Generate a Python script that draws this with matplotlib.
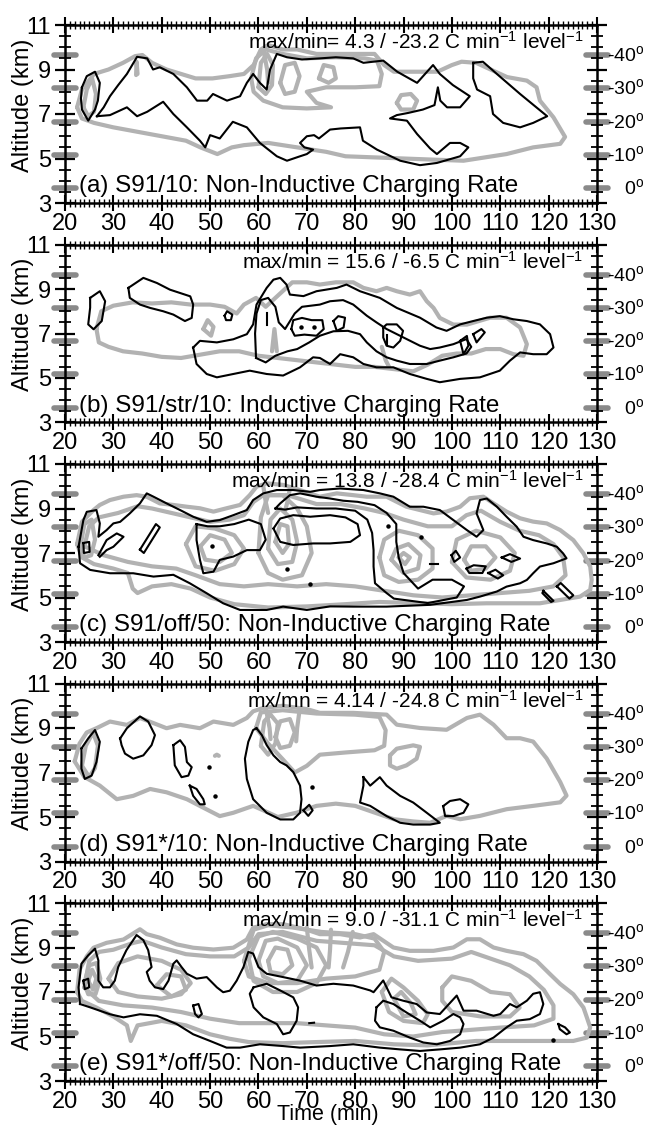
import matplotlib.pyplot as plt
from matplotlib.ticker import MultipleLocator, FixedLocator

plt.rcParams['font.family'] = ['Liberation Sans', 'DejaVu Sans']
plt.rcParams['mathtext.fontset'] = 'custom'
plt.rcParams['mathtext.rm'] = 'Liberation Sans'
plt.rcParams['mathtext.it'] = 'Liberation Sans:italic'

# temperature levels marked on both sides (altitude km, label)
TEMP_Z = [9.64, 8.15, 6.66, 5.16, 3.67]
TEMP_LABELS = ['-40$^\\mathrm{o}$', '-30$^\\mathrm{o}$', '-20$^\\mathrm{o}$',
               '-10$^\\mathrm{o}$', '0$^\\mathrm{o}$']

TITLES = [
    'max/min= 4.3 / -23.2 C min$^{-1}$ level$^{-1}$',
    'max/min = 15.6 / -6.5 C min$^{-1}$ level$^{-1}$',
    'max/min = 13.8 / -28.4 C min$^{-1}$ level$^{-1}$',
    'mx/mn = 4.14 / -24.8 C min$^{-1}$ level$^{-1}$',
    'max/min = 9.0 / -31.1 C min$^{-1}$ level$^{-1}$',
]
LABELS = [
    '(a) S91/10: Non-Inductive Charging Rate',
    '(b) S91/str/10: Inductive Charging Rate',
    '(c) S91/off/50: Non-Inductive Charging Rate',
    '(d) S91*/10: Non-Inductive Charging Rate',
    '(e) S91*/off/50: Non-Inductive Charging Rate',
]

# ---- contour paths, (time min, altitude km); gray = positive, black = negative
A_GRAY = [
    [(22.5,7.3),(23.5,8.1),(26,8.8),(29,9.0),(32,9.3),(34.5,9.6),(36,9.65),(38,9.3),(41,9.0),(44,8.8),
     (47,8.6),(50.5,8.6),(54,8.7),(57,8.8),(59,9.2),(60.5,9.9),(62,10.1),(65,9.9),(68,9.9),(72,9.7),
     (78,9.7),(84,9.7),(86,9.2),(88,8.9),(92,8.9),(97,8.9),(100,9.2),(102,9.35),(105,9.3),(108,9.0),
     (111.4,8.66),(115.5,8.5),(117.5,8.2),(118.2,7.6),(121,6.85),(123.4,5.97),(122.4,5.66),(116.8,5.5),
     (111.3,5.2),(102.4,4.9),(96,4.95),(90,5.0),(84,5.05),(78,5.1),(74,5.3),(68,5.5),(62,5.7),(57,5.6),
     (54.5,5.5),(51.5,5.2),(48,5.5),(45,5.8),(40,6.0),(35,6.2),(30,6.4),(26,6.6),(23.5,6.8),(22.5,7.3)],
    [(58.5,8.6),(59.5,9.5),(61.5,9.9),(65,9.7),(70,9.5),(76,9.55),(82,9.5),(84.5,9.4),(85.5,8.8),
     (85,8.25),(80,8.2),(74,8.2),(70,8.0),(72,7.5),(75,7.3),(70,7.25),(65,7.3),(61,7.6),(59,8.0),(58.5,8.6)],
    [(60,8.2),(60.5,9.3),(61.8,9.7),(63,9.2),(62.8,8.3),(61.5,7.9),(60,8.2)],
    [(64.5,8.4),(65.5,9.2),(67.5,9.3),(68.5,8.7),(67.5,8.0),(65.5,7.9),(64.5,8.4)],
    [(88.6,7.5),(89.5,7.85),(91.5,7.9),(92.8,7.6),(92,7.2),(89.5,7.2),(88.6,7.5)],
    [(23.8,7.3),(24.5,8.1),(25.6,8.6),(26.4,7.9),(26,7.1),(24.8,6.9),(23.8,7.3)],
    [(34.7,8.75),(34.8,9.35),(35.0,8.8)],
    [(72.5,8.6),(73.5,9.2),(75.5,9.1),(76,8.6),(74.5,8.4),(72.5,8.6)],
    [(61.0,9.9),(61.8,9.0),(62.0,8.4)],
]
A_BLACK = [
    [(23.5,8.2),(24.5,8.7),(26.2,8.9),(27.2,8.4),(26.8,7.6),(26.2,7.2),(24.8,6.7),(23.5,7.2),(23.3,7.7),(23.5,8.2)],
    [(26.6,6.9),(28,7.3),(29.3,7.8),(31,8.3),(32.8,8.8),(34.9,9.57),(37,9.5),(38.2,9.0),(39.6,9.1),(42.4,8.8),
     (45.2,8.2),(47.3,7.6),(49.4,7.6),(50.6,7.9),(53.5,7.6),(56.2,7.8),(57.6,8.4),(58.9,8.8),(60.3,8.4),
     (61.7,8.1),(62.4,9.0),(63.8,9.7),(65.9,9.55),(69,9.45),(72.7,9.5),(76,9.55),(79.6,9.5),(81.7,9.3),
     (85.8,9.4),(88.7,8.9),(92.8,8.4),(96.1,9.2),(97.5,8.8),(100.2,8.3),(103.7,7.8),(101.7,7.3),(99,7.3),
     (97.6,7.6),(97.1,8.2),(96.4,7.4),(94,7.2),(91,7.05),(88.6,6.95),(87.2,6.8),(90.7,6.7),(92.8,6.1),
     (95.5,5.45),(96.9,5.2),(99.6,5.7),(101.7,5.7),(103.4,5.5),(101.7,5.1),(96.9,4.8),(93.4,4.7),(89.3,4.9),
     (84.5,5.4),(81.6,5.8),(81,6.4),(77,6.35),(74.8,6.3),(72.5,5.9),(71.5,6.05),(70,6.0),(68.6,5.7),
     (69.5,5.5),(71.3,5.4),(70,5.2),(68.6,5.1),(65.9,4.9),(63.8,5.1),(60.3,5.7),(57.6,6.4),(54.7,6.65),
     (52,5.9),(50,6.05),(49,5.5),(47.9,5.8),(45.2,6.4),(42.4,7.0),(40.3,7.55),(37,7.1),(34.9,6.9),
     (32.8,7.3),(29.3,6.95),(26.6,6.9)],
    [(104.4,9.3),(106.4,9.35),(109.3,8.8),(114.1,7.9),(119.7,6.9),(116.8,6.6),(114.1,6.4),(110.6,6.6),
     (108.5,7.0),(107.9,7.8),(105.2,8.1),(104.4,8.6),(104.4,9.3)],
]

B_GRAY = [
    [(26.5,7.2),(27.5,8.0),(30,8.25),(34,8.4),(38,8.35),(42,8.4),(46,8.3),(50,8.3),(53,8.2),(55.5,7.9),
     (57,8.3),(59.5,8.6),(61.5,8.2),(63,8.5),(65,8.9),(67,9.3),(70,9.3),(72.7,9.2),(76,9.3),(79.6,9.3),
     (81.7,9.05),(84.4,8.9),(86.5,9.05),(88.6,8.9),(91.3,8.75),(93.4,8.9),(94.8,8.45),(96.2,8.15),
     (97.5,7.7),(100.3,7.4),(103.1,7.4),(107.9,7.71),(111.3,7.71),(114.1,7.27),(115.5,6.52),(114.8,6.0),
     (112.7,6.07),(110,6.3),(107,6.3),(104,6.1),(101,6.1),(98,6.0),(95,5.6),(92,5.3),(88,5.4),(84,5.5),
     (80,5.5),(76,5.6),(72,5.7),(68,5.8),(64,5.9),(60,6.0),(56,6.2),(52,6.2),(48,6.05),(44,5.9),
     (40,5.95),(36,6.1),(32,6.2),(29,6.4),(27,6.6),(26.5,7.2)],
    [(48.6,7.2),(49.5,7.6),(50.7,7.3),(50.2,6.9),(48.6,7.2)],
    [(62.8,6.2),(63.3,7.2),(63.8,6.2)],
    [(85.5,6.4),(86.3,5.8),(87,5.5)],
]
B_BLACK = [
    [(25.2,8.6),(27.2,8.9),(28.3,8.45),(27.6,7.56),(25.9,7.19),(24.8,7.41),(25.2,8.16),(25.2,8.6)],
    [(33.1,9.05),(36.2,9.5),(39.0,9.27),(41.7,8.97),(45.9,8.67),(46.5,8.3),(46.2,7.7),(44.8,7.56),
     (42.4,7.85),(40.3,8.0),(37.6,8.15),(35.5,8.3),(33.4,8.6),(33.1,9.05)],
    [(53.0,7.8),(53.5,8.0),(54.6,7.85),(54.3,7.6),(53.3,7.6),(53.0,7.8)],
    [(46.5,6.37),(47.9,6.67),(51.4,6.6),(54.8,6.74),(57.6,6.97),(58.9,7.41),(59.6,8.3),(61.7,9.05),
     (63.1,9.42),(64.5,9.5),(65.8,9.2),(66.5,8.75),(69.3,8.68),(72.0,8.9),(74.8,9.0),(76.2,9.05),
     (78.2,9.2),(81.0,8.9),(85.1,8.6),(88.6,8.15),(93.4,7.71),(96.8,7.27),(98.9,7.12),(101.7,7.41),
     (104.4,7.56),(107.2,7.71),(109.9,7.78),(112.7,7.64),(115.5,7.56),(118.2,7.41),(120.3,6.97),
     (121.0,6.37),(119.6,6.07),(116.8,6.07),(114.1,6.15),(112.0,5.78),(109.9,5.33),(105.8,5.03),
     (101.7,4.96),(97.5,4.81),(94.8,4.96),(91.3,5.18),(87.9,5.48),(84.4,5.48),(81.7,5.63),(79.6,5.93),
     (76.9,6.07),(74.8,5.63),(72.7,5.9),(71.3,5.93),(68.6,5.48),(65.1,5.11),(61.7,5.18),(58.2,5.33),
     (54.8,5.18),(51.4,5.03),(49.3,5.18),(47.2,5.63),(46.5,6.37)],
    [(59.5,5.9),(59.3,7.0),(59.6,7.9),(60.5,8.5),(62,8.6),(63.5,8.2),(64.2,7.5),(65.5,7.2),(67.5,7.9),
     (69,8.2),(72.7,8.3),(74.8,8.45),(77.5,8.5),(79.6,8.3),(82.4,7.8),(84.4,7.5),(86.5,7.2),(89.9,6.83),
     (93.4,6.45),(95.5,6.3),(97.5,6.37),(100.3,6.52),(103.0,6.75),(104,6.4),(103,6.1),(100.3,5.93),
     (97.5,5.78),(94.8,5.63),(91.3,5.63),(88.6,5.78),(86.5,5.93),(84.4,6.2),(82.4,6.6),(81.0,6.97),
     (78.5,7.12),(75.5,7.1),(72.7,6.9),(70.5,6.6),(68,6.3),(66,6.2),(63.5,6.0),(61.5,5.7),(59.5,5.9)],
    [(66.8,7.2),(67.2,7.6),(69,7.7),(71,7.6),(73.2,7.6),(73.5,7.2),(72,6.9),(69.5,6.95),(67.5,6.9),(66.8,7.2)],
    [(75.5,7.56),(76.5,7.78),(77.9,7.71),(77.6,7.27),(76.2,7.12),(75.5,7.56)],
    [(85.8,7.27),(86.5,7.41),(88.6,7.41),(89.9,7.12),(89.3,6.67),(87.9,6.37),(86.5,6.45),(85.8,6.82),(85.8,7.27)],
    [(101.7,6.67),(103.1,6.89),(103.4,6.45),(102.4,6.07),(101.7,6.67)],
    [(104.4,6.97),(106.1,7.2),(106.8,7.05),(105.1,6.6),(104.4,6.97)],
    [(61.7,7.9),(61.7,7.4)],
    [(86.5,6.95),(86.5,6.5)],
]
B_DOTS = [(68.8,7.3),(71.5,7.3)]

C_GRAY = [
    [(22.5,7.4),(23.5,8.4),(25.9,8.93),(27.2,9.16),(29.3,9.38),(32.1,9.53),(34.8,9.6),(36.9,9.53),
     (39.6,9.23),(42.4,9.16),(45.2,9.08),(47.9,9.01),(50.7,8.86),(53.4,9.01),(56.2,9.16),(58.2,9.6),
     (59.6,9.98),(61.7,10.13),(65.1,10.06),(69,9.8),(72.7,9.53),(76.2,9.68),(79.6,9.6),(82.4,9.53),
     (86.5,9.53),(90.6,9.08),(93.4,8.93),(96.2,8.78),(98.9,8.86),(101.7,9.08),(103.7,9.46),(106.5,9.53),
     (108.6,9.23),(111.3,8.86),(114.1,8.56),(116.8,8.41),(119.6,8.33),(122.4,8.03),(125.1,7.58),
     (127.2,6.98),(128.6,6.39),(128.9,5.79),(128.6,5.34),(126.5,5.04),(122.4,4.89),(118.2,4.74),
     (112.7,4.74),(107.2,4.74),(100,4.7),(92,4.75),(85,4.8),(78,4.7),(70,4.6),(62,4.55),(55,4.7),
     (50,5.0),(46,5.4),(42,5.6),(38,5.5),(35,5.2),(34,5.4),(33,6.1),(30,6.3),(26,6.5),(23.5,6.8),(22.5,7.4)],
    [(24,7.3),(25,8.2),(27,8.6),(31,8.8),(35,9.1),(38,9.0),(42,8.8),(46,8.6),(50,8.4),(54,8.5),(57,8.7),
     (59,9.3),(61,9.6),(66,9.6),(72,9.2),(77,9.2),(82,9.0),(86,8.8),(90,8.5),(95,8.2),(100,8.2),(103,8.7),
     (106,8.9),(110,8.4),(114,8.0),(118,7.8),(121,7.4),(123,6.8),(123.5,6.0),(121,5.5),(116,5.3),(110,5.2),
     (104,5.1),(98,5.0),(92,5.1),(86,5.3),(80,5.5),(74,5.6),(68,5.5),(62,5.6),(57,5.5),(52,5.6),(47,6.0),
     (43,6.3),(38,6.4),(33,6.6),(28,6.9),(24,7.3)],
    [(23.2,7.3),(24,8.3),(25.5,8.5),(26.2,7.6),(25.4,6.9),(24,6.8),(23.2,7.3)],
    [(45,7.4),(47,8.2),(51,8.1),(55,7.8),(57,7.2),(55,6.5),(51,6.2),(47,6.4),(45,7.4)],
    [(48,7.3),(50,7.8),(53,7.6),(54.5,7.0),(52,6.6),(49,6.7),(48,7.3)],
    [(60,7.0),(60.5,8.6),(62,9.6),(65,9.6),(68,9.0),(70,8.2),(71,7.0),(69,6.0),(65,5.8),(62,6.1),(60,7.0)],
    [(62,7.2),(62.5,8.5),(64.5,9.0),(67,8.5),(68,7.5),(67,6.6),(64,6.5),(62,7.2)],
    [(63.5,7.5),(64.5,8.3),(66,8.2),(66.3,7.4),(65,7.0),(63.5,7.5)],
    [(85,6.8),(86,7.6),(89,8.0),(93,7.8),(96,7.2),(96,6.3),(93,5.8),(89,5.7),(86,6.0),(85,6.8)],
    [(87.5,6.7),(88.5,7.2),(91,7.4),(93.5,6.9),(93,6.3),(90,6.1),(87.5,6.7)],
    [(89,6.8),(90,7.0),(91.3,6.8),(90.3,6.5),(89,6.8)],
    [(100,6.6),(101,7.6),(105,8.0),(110,7.7),(113,7.0),(112,6.2),(108,5.8),(103,5.9),(100,6.6)],
    [(102.5,6.7),(104,7.3),(107,7.3),(109,6.8),(107,6.3),(104,6.2),(102.5,6.7)],
    [(61.0,10.0),(61.5,9.3),(62.0,8.8)],
    [(66.5,9.9),(66.0,9.3),(65.5,8.9)],
]
C_BLACK = [
    [(22.8,7.28),(23.8,8.48),(24.5,8.85),(26.5,8.93),(27.2,8.33),(26.9,7.73),(28.6,8.03),(30.0,8.33),
     (31.4,8.4),(33.4,8.78),(35.5,9.23),(36.9,9.68),(38.3,9.53),(41.0,9.23),(43.8,8.93),(46.5,8.63),
     (49.3,8.4),(52.0,8.48),(54.8,8.7),(57.6,8.93),(58.9,9.38),(61.0,9.68),(63.8,9.83),(67.2,9.83),
     (70.7,9.75),(72.7,9.83),(76.9,9.9),(81.7,9.83),(85.1,9.68),(87.9,9.53),(91.3,9.08),(94.1,9.08),
     (97.5,8.93),(100.3,8.48),(103.1,8.03),(105.1,7.73),(106.5,8.03),(105.1,8.78),(105.8,9.38),
     (107.2,9.45),(109.3,9.08),(111.3,8.63),(113.4,8.18),(114.8,7.73),(116.8,7.58),(119.6,7.43),
     (121.7,7.28),(123.0,6.98),(123.7,6.76),(121.0,6.54),(118.2,6.39),(116.8,6.09),(115.5,5.79),
     (114.1,5.64),(111.3,5.49),(109.3,5.27),(105.8,5.04),(103.1,4.89),(95.5,4.67),(86.5,4.59),
     (79.6,4.59),(74.8,4.6),(70.0,4.44),(65.1,4.59),(61.7,4.44),(56.2,4.44),(52.7,4.74),(49.3,5.19),
     (45.8,5.64),(42.4,6.02),(38.3,5.94),(34.1,6.09),(29.3,6.09),(25.2,6.24),(23.1,6.54),(22.8,7.28)],
    [(63.5,9.0),(64.5,9.23),(66.5,9.6),(68.6,9.68),(72,9.53),(74.8,9.45),(77.5,9.35),(80.5,9.3),(84,9.15),
     (86.5,8.8),(88.5,8.3),(88.5,7.5),(89,6.8),(90,6.1),(93,5.4),(96,5.8),(100,5.8),(102.5,5.5),(101,5.0),
     (95,4.75),(88,4.95),(86.5,5.2),(84.1,5.64),(83.8,6.39),(83.8,7.13),(83.5,7.9),(82.5,8.5),(80,8.9),
     (76,9.0),(72,9.0),(68,9.05),(65.5,8.95),(63.5,9.0)],
    [(63.1,8.1),(64.5,8.55),(67.2,8.7),(70.7,8.63),(74.8,8.7),(78,8.6),(80.5,8.3),(81,7.8),(79,7.5),
     (74.8,7.43),(71.3,7.43),(67.2,7.36),(64.5,7.5),(63.1,8.1)],
    [(47.2,8.3),(47.2,7.58),(47.9,6.69),(48.6,6.09),(50.7,6.16),(52.0,6.69),(54.8,6.84),(57.6,7.13),
     (60.3,7.13),(61.5,7.6),(60.5,8.3),(58,8.5),(55,8.3),(52,8.2),(49.5,8.2),(47.2,8.3)],
    [(35.5,7.15),(38.8,8.3),(39.6,8.15),(36.3,7.0),(35.5,7.15)],
    [(23.8,7.45),(25.0,7.5),(25.1,7.05),(23.9,7.0),(23.8,7.45)],
    [(26.9,6.9),(28.6,7.58),(30.7,7.88),(32.1,7.73),(30,7.28),(28.6,7.13),(27.2,6.83)],
    [(99.9,6.9),(100.8,7.1),(101.7,6.8),(100.5,6.6),(99.9,6.9)],
    [(103,6.3),(104.5,6.45),(107,6.4),(106.3,6.1),(103.6,6.1),(103,6.3)],
    [(107.5,6.1),(109,6.25),(110.6,6.0),(109.5,5.85),(107.5,6.1)],
    [(110.3,6.8),(112,6.95),(114.1,6.75),(112.3,6.6),(110.3,6.8)],
    [(118.9,5.3),(121,4.85),(120.5,4.8),(118.7,5.2),(118.9,5.3)],
    [(121.7,5.5),(122.5,5.65),(125.1,5.1),(124.3,4.95),(121.7,5.5)],
    [(95.5,6.5),(97.2,6.5)],
]
C_DOTS = [(93.7,7.7),(86.7,8.2),(50.3,7.3),(65.8,6.3),(70.7,5.6)]

D_GRAY = [
    [(22,7.5),(23,8.3),(24.5,8.8),(26.5,8.99),(29.3,9.29),(32.8,9.14),(35.5,9.45),(38.3,9.22),(41.0,8.99),
     (43.8,9.14),(47.9,8.99),(50.7,9.29),(54.8,9.14),(57.6,9.45),(58.9,9.75),(61.0,9.9),(65,10.0),
     (70,9.85),(72.7,9.68),(79.6,9.68),(86.5,9.6),(88.6,9.15),(93.4,9.0),(98.9,8.92),(103.1,9.45),
     (105.8,9.6),(108.6,9.15),(111.3,8.54),(114.1,8.54),(116.8,8.39),(119.6,7.63),(122.4,6.57),
     (123.7,5.96),(122.4,5.66),(116.8,5.5),(111.3,5.35),(105.8,5.05),(101.7,4.9),(98.9,5.05),(95.5,4.74),
     (92,4.8),(88,4.9),(84,5.2),(80,5.5),(76,5.6),(72,5.5),(68,5.2),(64,5.0),(61,5.3),(58.9,5.5),
     (54.8,5.19),(52.0,5.04),(49.3,5.34),(45.2,5.8),(41.0,6.11),(37.6,6.26),(34.1,5.95),(30.7,5.8),
     (27.2,6.41),(24,6.8),(22,7.5)],
    [(59.5,9.0),(60.5,9.7),(65,9.8),(72,9.65),(80,9.6),(85,9.5),(86.3,8.9),(86.0,8.2),(84,8.0),
     (78,7.9),(72.7,7.8),(70,7.3),(67.5,7.0),(65,7.6),(62,8.3),(59.5,9.0)],
    [(60.5,8.2),(61.2,9.3),(62.5,9.6),(64,9.2),(63.5,8.3),(62,7.8),(60.5,8.2)],
    [(63.5,8.6),(64.5,9.3),(66.5,9.4),(67.5,8.8),(66.5,8.2),(64.5,8.1),(63.5,8.6)],
    [(87.2,7.77),(88.6,8.07),(92.0,8.22),(93.4,8.15),(92.7,7.62),(90.6,7.32),(88.6,7.17),(87.2,7.32),(87.2,7.77)],
    [(23.5,7.3),(24.3,8.2),(25.8,8.8),(26.8,8.2),(26.2,7.2),(25,6.8),(23.5,7.3)],
    [(51.0,7.75),(51.4,7.8),(51.8,7.75)],
    [(61.5,9.9),(62.3,9.0),(62.5,8.5)],
    [(68.5,9.8),(68.0,9.0),(67.8,8.4)],
]
D_BLACK = [
    [(23.4,8.08),(24.8,8.53),(26.2,8.91),(27.2,8.38),(26.5,7.47),(25.5,6.86),(24.1,6.71),(23.4,7.17),(23.4,8.08)],
    [(31.4,8.53),(32.8,8.99),(35.5,9.52),(37.2,9.29),(38.6,8.68),(37.9,8.23),(36.2,7.77),(34.1,7.62),
     (32.4,7.85),(31.7,8.23),(31.4,8.53)],
    [(42.4,8.23),(43.8,8.45),(44.8,8.15),(45.2,7.47),(46.2,7.24),(45.5,6.86),(44.1,6.79),(42.7,7.32),(42.4,8.23)],
    [(45.8,6.41),(47.2,6.26),(48.6,5.8),(48.9,5.57),(47.9,5.57),(46.5,5.95),(45.8,6.41)],
    [(59.6,8.99),(58.9,8.91),(57.9,8.38),(57.2,7.62),(57.6,6.71),(58.9,5.8),(61.7,5.19),(64.5,4.89),
     (67.2,4.89),(68.6,5.19),(68.9,5.8),(68.6,6.41),(67.2,7.02),(65.8,7.32),(64.5,7.47),(63.1,7.77),
     (61.7,8.23),(60.7,8.68),(59.6,8.99)],
    [(69.3,5.3),(70.5,5.55),(71.2,5.3),(70.3,5.05),(69.3,5.3)],
    [(81.7,6.79),(83.1,6.41),(85.1,6.79),(86.5,6.41),(89.3,5.95),(92.0,5.65),(94.8,5.19),(97.5,4.74),
     (95.5,4.66),(92.0,4.66),(89.3,4.74),(86.5,5.04),(83.1,5.5),(81.0,5.65),(81.7,6.41),(81.7,6.79)],
    [(98.2,5.49),(99.6,5.72),(101.7,5.8),(103.4,5.57),(102.4,5.19),(100.3,5.04),(98.6,5.04),(98.2,5.49)],
]
D_DOTS = [(49.8,7.24),(51.0,5.95),(71.0,6.33)]

E_GRAY = [
    [(22.5,7.0),(23,8.0),(24.5,8.6),(25.9,8.99),(28.6,9.21),(32.1,9.36),(35.5,9.82),(36.9,9.6),(39.6,9.44),
     (43.1,9.14),(46.5,8.99),(50.7,8.91),(54.8,8.99),(57.6,9.36),(58.9,9.89),(61.7,10.05),(65.1,10.05),
     (70,9.8),(72.7,9.6),(76.9,9.6),(81,9.45),(83.8,9.6),(87.9,9.0),(91.3,8.85),(96.2,8.85),(100.3,9.0),
     (103.1,9.37),(105.8,9.37),(108.6,9.0),(111.3,8.85),(114.8,8.7),(117.5,8.4),(120.3,7.8),(122.4,7.36),
     (125.1,6.9),(127.2,6.3),(127.9,5.86),(128.6,5.41),(127.9,4.95),(125.1,4.8),(121,4.8),(114.1,4.8),
     (105,4.8),(100,4.7),(95,4.6),(88,4.65),(80,4.8),(72,4.75),(65,4.7),(58,4.75),(54,4.9),(50,5.1),
     (45,5.5),(40,5.7),(35,5.5),(33.6,4.8),(32.8,5.5),(30,5.9),(26.5,6.3),(23.5,6.6),(22.5,7.0)],
    [(24,7.2),(25,8.4),(27,8.8),(30,8.9),(34,9.2),(36,9.3),(40,9.0),(45,8.7),(50,8.6),(55,8.6),(58,9.0),
     (60,9.6),(65,9.7),(72,9.3),(78,9.2),(84,9.1),(88,8.6),(93,8.4),(100,8.5),(104,8.8),(108,8.5),
     (112,8.2),(116,7.7),(119,7.1),(121,6.4),(121,5.8),(117,5.5),(110,5.4),(104,5.3),(98,5.2),(92,5.0),
     (86,5.1),(80,5.4),(74,5.5),(68,5.6),(62,5.6),(56,5.6),(50,5.8),(44,6.1),(38,6.3),(32,6.4),(27,6.6),(24,7.2)],
    [(24,7.4),(25,8.2),(26.5,8.3),(27.3,7.6),(26.3,6.9),(24.8,6.9),(24,7.4)],
    [(24.8,7.5),(25.6,8.0),(26.5,7.6),(25.8,7.1),(24.8,7.5)],
    [(29,7.6),(31,8.3),(35,8.6),(40,8.4),(44,8.0),(46,7.4),(44,6.9),(40,6.7),(35,6.8),(31,7.0),(29,7.6)],
    [(39,7.3),(41,7.8),(44,7.7),(45,7.1),(42,6.8),(39,7.3)],
    [(57,8.4),(59,9.8),(62,10.0),(67,9.9),(73,9.7),(80,9.6),(84,9.4),(86,8.8),(85,8.0),(80,7.7),(74,7.6),
     (68,7.4),(62,7.4),(58,7.7),(57,8.4)],
    [(58,8.5),(60,9.5),(63,9.7),(68,9.4),(72,9.0),(74,8.2),(72,7.4),(68,7.0),(63,7.0),(59,7.5),(58,8.5)],
    [(60,8.4),(61.5,9.3),(64,9.4),(68,9.0),(70,8.2),(68,7.5),(64,7.4),(61,7.7),(60,8.4)],
    [(62,8.4),(63.5,9.0),(66,8.9),(67,8.2),(65,7.8),(62.5,7.9),(62,8.4)],
    [(70,9.9),(70.5,8.9),(71.0,8.1)],
    [(75,9.8),(74.8,8.9),(74.5,8.1)],
    [(79.5,9.7),(78.5,8.8),(77.5,8.1)],
    [(85.5,7.0),(87.5,7.6),(90,7.2),(93,6.6),(95,6.0),(94,5.6),(90,5.7),(87,6.1),(85.5,7.0)],
    [(88,6.7),(89.5,7.0),(91.5,6.5),(92.5,6.0),(90,5.9),(88,6.7)],
    [(98,7.2),(100,7.7),(104,7.5),(108,7.0),(112,6.9),(114,6.3),(112,5.9),(106,5.9),(100,6.1),(98,6.6),(98,7.2)],
]
E_BLACK = [
    [(23.1,6.46),(22.8,7.21),(23.4,8.27),(24.8,8.65),(26.2,8.95),(26.9,8.42),(26.9,7.51),(27.9,7.21),
     (29.3,7.21),(30.3,7.51),(31.0,8.12),(32.7,8.88),(34.8,9.56),(36.2,9.33),(37.2,8.88),(37.9,8.12),
     (36.9,7.9),(37.5,7.51),(38.6,7.21),(40.3,7.13),(41.4,7.51),(42.4,8.27),(43.1,8.42),(44.1,8.12),
     (45.2,7.82),(47.2,7.6),(49.3,7.67),(51.4,7.21),(52.7,6.99),(54.1,7.06),(55.5,7.51),(56.9,8.12),
     (57.9,8.8),(58.9,8.73),(60.0,8.12),(61.7,7.82),(65.1,7.67),(68.6,7.51),(72.0,7.29),(75.5,7.37),
     (79.6,7.29),(83.1,7.07),(83.8,6.99),(85.8,7.52),(87.5,6.76),(89.9,6.61),(92.7,6.46),(94.8,6.08),
     (97.5,6.01),(101.0,6.84),(102.4,6.16),(105.1,6.16),(108.6,5.93),(110.0,6.01),(112.0,6.46),
     (113.4,6.31),(115.5,6.61),(116.8,6.92),(118.2,6.99),(118.9,6.46),(118.2,6.01),(116.1,5.78),
     (113.4,5.71),(111.3,5.41),(108.6,4.95),(105.8,4.65),(101.7,4.5),(97.5,4.42),(93.4,4.35),
     (89.3,4.42),(85.1,4.5),(79.6,4.65),(74.8,4.57),(68.6,4.5),(65.1,4.57),(60.3,4.65),(56.2,4.5),
     (53.4,4.5),(50.0,4.8),(46.5,5.1),(43.1,5.56),(39.0,5.93),(35.5,6.0),(32.1,5.86),(29.3,6.0),
     (25.2,6.31),(23.1,6.46)],
    [(59.0,7.21),(61.7,7.37),(64.5,7.07),(67.2,6.76),(68.2,6.31),(67.9,5.71),(66.5,5.18),(65.1,5.1),
     (63.8,5.56),(61.0,5.86),(59.0,6.31),(58.2,6.92),(59.0,7.21)],
    [(23.8,7.51),(24.8,7.6),(25.0,7.21),(24.1,7.13),(23.8,7.51)],
    [(46.5,6.39),(47.6,6.46),(48.3,6.01),(47.6,5.86),(46.9,6.01),(46.5,6.39)],
    [(84.4,6.31),(85.8,6.61),(87.9,6.46),(90.6,6.08),(93.4,5.71),(95.5,5.41),(98.2,5.71),(100.3,6.01),
     (101.7,5.86),(102.4,5.56),(101.7,5.1),(99.6,4.8),(96.9,4.65),(94.1,4.73),(91.3,4.95),(87.9,5.26),
     (85.1,5.41),(84.1,5.71),(84.4,6.31)],
    [(122.0,5.56),(123.4,5.41),(124.4,5.18),(123.7,5.1),(122.3,5.33),(122.0,5.56)],
    [(70.5,5.6),(71.5,5.62)],
]
E_DOTS = [(121.0,4.85)]

PANELS = [
    (A_GRAY, A_BLACK, []),
    (B_GRAY, B_BLACK, B_DOTS),
    (C_GRAY, C_BLACK, C_DOTS),
    (D_GRAY, D_BLACK, D_DOTS),
    (E_GRAY, E_BLACK, E_DOTS),
]

W, H = 647, 1126
fig = plt.figure(figsize=(W / 100, H / 100), dpi=100)

for i, (gray, black, dots) in enumerate(PANELS):
    top = 25 + 219.5 * i
    ax = fig.add_axes([65 / W, 1 - (top + 178) / H, 532 / W, 178 / H])

    for path in gray:
        t, z = zip(*path)
        ax.plot(t, z, color='#b2b2b2', lw=3.0, solid_joinstyle='round',
                solid_capstyle='round', zorder=2)
    for path in black:
        t, z = zip(*path)
        ax.plot(t, z, color='black', lw=1.5, solid_joinstyle='round', zorder=3)
    for t, z in dots:
        ax.plot(t, z, 'o', color='black', ms=2.2, zorder=3)

    ax.set_xlim(20, 130)
    ax.set_ylim(3, 11)
    ax.xaxis.set_major_locator(MultipleLocator(10))
    ax.xaxis.set_minor_locator(MultipleLocator(1))
    ax.yaxis.set_major_locator(FixedLocator([3, 5, 7, 9, 11]))
    ax.yaxis.set_minor_locator(MultipleLocator(0.5))
    ax.tick_params(which='both', top=True, right=True, direction='inout')
    ax.tick_params(axis='x', which='major', length=11, width=1.5, labelsize=17, pad=1.5)
    ax.tick_params(axis='x', which='minor', length=6, width=1.0)
    ax.tick_params(axis='y', which='major', length=14, width=1.6, labelsize=17, pad=3)
    ax.tick_params(axis='y', which='minor', length=9, width=1.3)
    for s in ax.spines.values():
        s.set_linewidth(1.8)

    # temperature markers on both sides
    tr = ax.get_yaxis_transform()
    for z, lab in zip(TEMP_Z, TEMP_LABELS):
        ax.plot([-0.02, 0.02], [z, z], transform=tr, color='#8a8a8a', lw=4,
                solid_capstyle='round', clip_on=False, zorder=1)
        ax.plot([0.98, 1.02], [z, z], transform=tr, color='#8a8a8a', lw=4,
                solid_capstyle='round', clip_on=False, zorder=1)
        ax.text(1.089, z, lab, transform=tr, ha='right', va='center', fontsize=14)

    ax.text(0.975, 0.905, TITLES[i], transform=ax.transAxes, ha='right',
            va='center', fontsize=15)
    ax.text(0.026, 0.095, LABELS[i], transform=ax.transAxes, ha='left',
            va='center', fontsize=17.5)
    ax.text(-0.079, 0.55, 'Altitude (km)', transform=ax.transAxes, rotation=90,
            ha='center', va='center', fontsize=17)

fig.text(328 / W, 1 / H, 'Time (min)', ha='center', va='bottom', fontsize=15.5)

fig.savefig('out.png', dpi=100)
